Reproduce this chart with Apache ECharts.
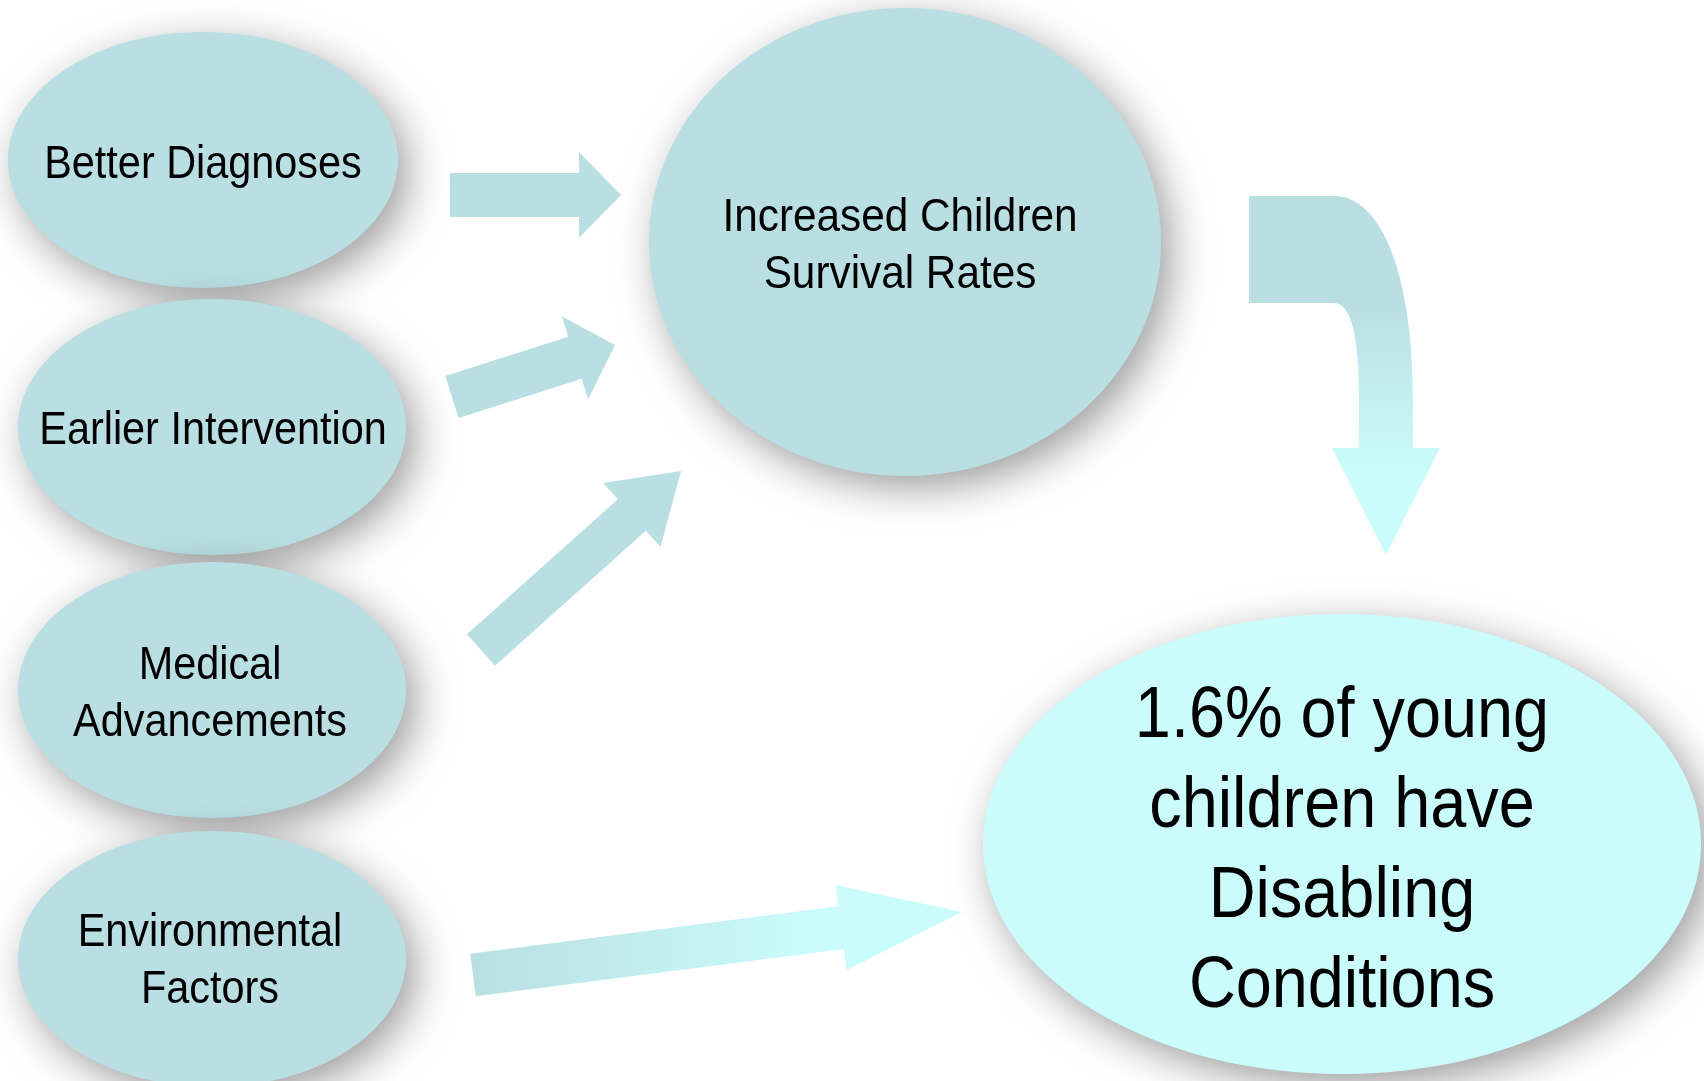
<!DOCTYPE html>
<html>
<head>
<meta charset="utf-8">
<script src="https://cdn.jsdelivr.net/npm/echarts@6/dist/echarts.min.js"></script>
<style>
html,body{margin:0;padding:0;background:#ffffff;}
#main{width:1704px;height:1081px;}
</style>
</head>
<body>
<div id="main"></div>
<script>
// ---- content ----
const nodeLabels = [
  'Better Diagnoses',
  'Earlier Intervention',
  'Medical\nAdvancements',
  'Environmental\nFactors',
  'Increased Children\nSurvival Rates',
  '1.6% of young\nchildren have\nDisabling\nConditions'
];
const nodeKinds = ['cause', 'cause', 'cause', 'cause', 'middle', 'outcome'];
const links = [[0, 4], [1, 4], [2, 4], [3, 5], [4, 5]];

// ---- layout (pixel space of the 1704x1081 canvas) ----
const nodeLayout = [
  { cx: 203, cy: 160, rx: 195, ry: 128, tx: 203, ty: 165, font: 46, lh: 57 },
  { cx: 212, cy: 427, rx: 194, ry: 128, tx: 213, ty: 431, font: 46, lh: 57 },
  { cx: 212, cy: 690, rx: 194, ry: 128, tx: 210, ty: 695, font: 46, lh: 57 },
  { cx: 212, cy: 959, rx: 194, ry: 128, tx: 210, ty: 962, font: 46, lh: 57 },
  { cx: 905, cy: 242, rx: 256, ry: 234, tx: 900, ty: 247, font: 47, lh: 57 },
  { cx: 1342, cy: 844, rx: 359, ry: 230, tx: 1342, ty: 852, font: 72, lh: 90 }
];
const arrowLayout = [
  { tail: [450, 195], tip: [621, 195], shaft: 44, head: 86, headLen: 42 },
  { tail: [452, 397], tip: [615, 345], shaft: 44, head: 87, headLen: 42 },
  { tail: [481, 650], tip: [681, 471], shaft: 42, head: 86, headLen: 66 },
  { tail: [473, 975], tip: [962, 912], shaft: 43, head: 86, headLen: 122, gradient: 'h' },
  { bent: true, gradient: 'v' }
];
// bent arrow outline: [cmd, points...]
const bentPath = [
  ['M', [1249, 196]],
  ['L', [1334, 196]],
  ['C', [1382, 196], [1413, 275], [1413, 400]],
  ['L', [1413, 448]],
  ['L', [1440, 448]],
  ['L', [1386, 555]],
  ['L', [1332, 448]],
  ['L', [1359, 448]],
  ['L', [1359, 400]],
  ['C', [1359, 335], [1351, 303], [1334, 303]],
  ['L', [1249, 303]],
  ['Z']
];

const COL_NODE = '#B9DFE3';
const COL_OUT = '#CBFCFC';
const FONT = "'Liberation Sans',Arial,sans-serif";
const NARROW = 0.9;

function arrowPoly(a) {
  const tx = a.tail[0], ty = a.tail[1], hx = a.tip[0], hy = a.tip[1];
  const dx = hx - tx, dy = hy - ty, len = Math.hypot(dx, dy);
  const ux = dx / len, uy = dy / len, nx = -uy, ny = ux;
  const bx = hx - ux * a.headLen, by = hy - uy * a.headLen;
  const s = a.shaft / 2, h = a.head / 2;
  return [
    [tx + nx * s, ty + ny * s], [bx + nx * s, by + ny * s], [bx + nx * h, by + ny * h],
    [hx, hy],
    [bx - nx * h, by - ny * h], [bx - nx * s, by - ny * s], [tx - nx * s, ty - ny * s]
  ];
}

const chart = echarts.init(document.getElementById('main'), null, { renderer: 'canvas' });

const option = {
  animation: false,
  backgroundColor: '#ffffff',
  grid: { left: 0, right: 0, top: 0, bottom: 0 },
  xAxis: { type: 'value', min: 0, max: 1704, show: false },
  yAxis: { type: 'value', min: 0, max: 1081, inverse: true, show: false },
  series: [
    {
      type: 'custom',
      coordinateSystem: 'cartesian2d',
      z: 1,
      data: links.map((l, k) => [k, l[0], l[1]]),
      renderItem: function (params, api) {
        const k = api.value(0);
        const a = arrowLayout[k];
        let fill = COL_NODE;
        if (a.gradient === 'h') {
          fill = new echarts.graphic.LinearGradient(0, 0, 1, 0, [
            { offset: 0, color: COL_NODE }, { offset: 0.72, color: COL_OUT }, { offset: 1, color: COL_OUT }
          ]);
        } else if (a.gradient === 'v') {
          fill = new echarts.graphic.LinearGradient(0, 0, 0, 1, [
            { offset: 0, color: COL_NODE }, { offset: 0.3, color: COL_NODE }, { offset: 0.78, color: COL_OUT }, { offset: 1, color: COL_OUT }
          ]);
        }
        if (a.bent) {
          let d = '';
          bentPath.forEach(function (seg) {
            d += seg[0];
            for (let j = 1; j < seg.length; j++) {
              const p = api.coord(seg[j]);
              d += ' ' + p[0].toFixed(1) + ' ' + p[1].toFixed(1);
            }
            d += ' ';
          });
          return { type: 'path', shape: { pathData: d }, style: { fill: fill } };
        }
        const pts = arrowPoly(a).map(p => api.coord(p));
        return { type: 'polygon', shape: { points: pts }, style: { fill: fill } };
      }
    },
    {
      type: 'custom',
      coordinateSystem: 'cartesian2d',
      z: 2,
      data: nodeLabels.map((_, i) => [i]),
      renderItem: function (params, api) {
        const i = api.value(0);
        const L = nodeLayout[i];
        const c = api.coord([L.cx, L.cy]);
        const r = api.size([L.rx, L.ry]);
        const t = api.coord([L.tx, L.ty]);
        return {
          type: 'group',
          children: [
            {
              type: 'ellipse',
              shape: { cx: c[0], cy: c[1], rx: r[0], ry: r[1] },
              style: {
                fill: nodeKinds[i] === 'outcome' ? COL_OUT : COL_NODE,
                shadowBlur: 40, shadowOffsetX: 10, shadowOffsetY: 12,
                shadowColor: 'rgba(0,0,0,0.38)'
              }
            },
            {
              type: 'text',
              x: t[0], y: t[1], scaleX: NARROW, scaleY: 1,
              style: {
                text: nodeLabels[i], x: 0, y: 0,
                align: 'center', verticalAlign: 'middle',
                fontFamily: FONT, fontSize: L.font, lineHeight: L.lh,
                fill: '#000000'
              }
            }
          ]
        };
      }
    }
  ]
};
chart.setOption(option);
</script>
</body>
</html>
